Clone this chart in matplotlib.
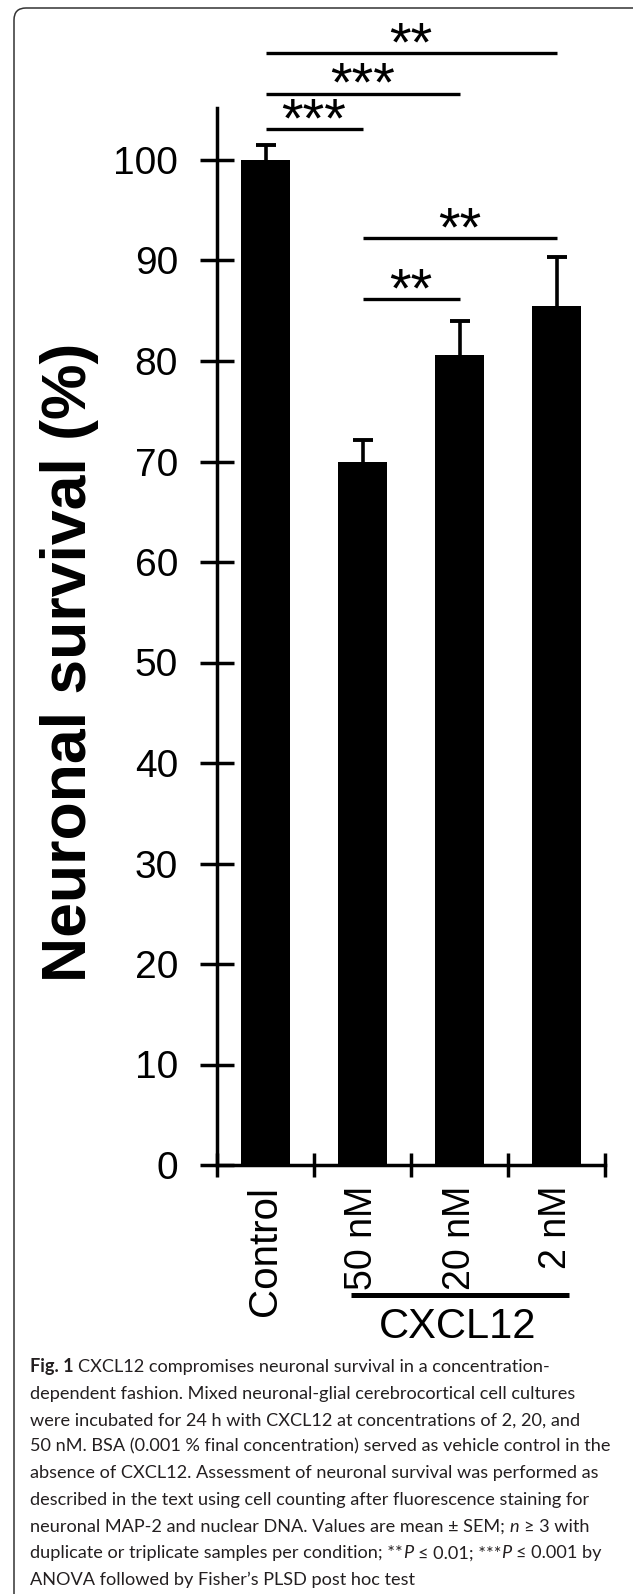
#!/usr/bin/env python3
# -*- coding: utf-8 -*-

import matplotlib
matplotlib.use("Agg")
import matplotlib.pyplot as plt
from matplotlib import font_manager
from matplotlib.patches import FancyBboxPatch
from matplotlib.transforms import IdentityTransform

# =====================================================
# Datos
# =====================================================
categorias = ["Control", "50 nM", "20 nM", "2 nM"]
supervivencia = [100.0, 70.0, 80.6, 85.5]
sem = [1.5, 2.1, 3.4, 4.8]
yticks = [0, 10, 20, 30, 40, 50, 60, 70, 80, 90, 100]
grupo = "CXCL12"
etiqueta_y = "Neuronal survival (%)"

# comparaciones: (barra_a, barra_b, marca)
comparaciones = [(0, 1, "***"), (0, 2, "***"), (0, 3, "**"),
                 (1, 2, "**"), (1, 3, "**")]
# altura de cada linea de comparacion (layout)
alturas_lineas = [103.05, 106.6, 110.6, 86.15, 92.2]

leyenda = [
    [("Fig. 1", "b"), (" CXCL12 compromises neuronal survival in a concentration-", "n")],
    [("dependent fashion. Mixed neuronal-glial cerebrocortical cell cultures", "n")],
    [("were incubated for 24 h with CXCL12 at concentrations of 2, 20, and", "n")],
    [("50 nM. BSA (0.001 % final concentration) served as vehicle control in the", "n")],
    [("absence of CXCL12. Assessment of neuronal survival was performed as", "n")],
    [("described in the text using cell counting after fluorescence staining for", "n")],
    [("neuronal MAP-2 and nuclear DNA. Values are mean \u00b1 SEM; ", "n"), ("n", "i"),
     (" \u2265 3 with", "n")],
    [("duplicate or triplicate samples per condition; **", "n"), ("P", "i"),
     (" \u2264 0.01; ***", "n"), ("P", "i"), (" \u2264 0.001 by", "n")],
    [("ANOVA followed by Fisher\u2019s PLSD post hoc test", "n")],
]

# =====================================================
# Figura
# =====================================================
W, H = 633, 1594
fig = plt.figure(figsize=(W / 100, H / 100), dpi=100)
fig.patch.set_facecolor("white")

# marco redondeado (se corta a la derecha y abajo)
marco = FancyBboxPatch((14, -40), 640, H - 8 + 40, boxstyle="round,pad=0,rounding_size=12",
                       transform=IdentityTransform(), fill=False,
                       edgecolor="#333333", linewidth=1.1)
fig.add_artist(marco)

FUENTE = ["Liberation Sans", "DejaVu Sans"]

ax_izq, ax_der, ax_abajo, ax_arriba = 217, 605, 1165, 108
ax = fig.add_axes([ax_izq / W, 1 - ax_abajo / H,
                   (ax_der - ax_izq) / W, (ax_abajo - ax_arriba) / H])

x = list(range(len(categorias)))
ax.bar(x, supervivencia, width=0.5, color="black", zorder=2)
eb = ax.errorbar(x, supervivencia, yerr=[[0] * len(sem), sem], fmt="none",
                 ecolor="black", elinewidth=2.6, capsize=7.5, capthick=2.8, zorder=1)
eb[1][0].set_visible(False)

ax.set_xlim(-0.5, 3.5)
ax.set_ylim(0, (ax_abajo - ax_arriba) / 10.05)

for s in ["top", "right"]:
    ax.spines[s].set_visible(False)
for s in ["left", "bottom"]:
    ax.spines[s].set_linewidth(2.5)

ax.set_yticks(yticks)
ax.set_yticklabels([str(v) for v in yticks], family=FUENTE, fontsize=28)
ax.tick_params(axis="y", direction="inout", length=24, width=2.5, pad=16)

ax.set_xticks(x)
ax.set_xticklabels(categorias, rotation=90, ha="center", va="top", family=FUENTE)
for i, lab in enumerate(ax.get_xticklabels()):
    lab.set_fontsize(29 if i == 0 else 27)
ax.set_xticks([-0.5, 0.5, 1.5, 2.5, 3.5], minor=True)
ax.tick_params(axis="x", which="major", length=0, pad=15)
ax.tick_params(axis="x", which="minor", direction="inout", length=17, width=2.5)

# comparaciones
for (a, b, marca), yl in zip(comparaciones, alturas_lineas):
    ax.plot([a, b], [yl, yl], color="black", lw=2.4, clip_on=False,
            solid_capstyle="butt")
    ax.annotate(marca, xy=((a + b) / 2, yl), xytext=(0, -5), textcoords="offset points",
                ha="center", va="baseline", fontsize=40, family=FUENTE,
                annotation_clip=False)

# grupo CXCL12
ax.plot([0.88, 3.13], [-12.94, -12.94], color="black", lw=3.6, clip_on=False,
        solid_capstyle="butt")
ax.text(1.985, -17.2, grupo, ha="center", va="baseline", fontsize=30,
        family=FUENTE, clip_on=False)

# etiqueta eje y
fig.text(70 / W, 1 - 662 / H, etiqueta_y, rotation=90, ha="center", va="center",
         fontsize=45, fontweight="bold", family=FUENTE)

# =====================================================
# Leyenda de la figura
# =====================================================
renderer = fig.canvas.get_renderer()
COLOR_LEY = "#231f20"
ESTILOS = {"n": {}, "b": {"fontweight": "bold"}, "i": {"fontstyle": "italic"}}


def fuente_disponible(familia, stretch="normal"):
    try:
        ruta = font_manager.findfont(
            font_manager.FontProperties(family=familia, stretch=stretch),
            fallback_to_default=False)
    except ValueError:
        return False
    if stretch != "normal":
        return "ondens" in ruta or "arrow" in ruta
    return True


candidatas = [("Liberation Sans Narrow", "normal"), ("DejaVu Sans", "condensed"),
              ("Open Sans", "condensed"), ("Roboto", "condensed"),
              ("Lato", "normal"), ("Liberation Sans", "normal")]


def ancho(texto, size, estilo="n", fam=None, stretch="normal"):
    t = fig.text(0, 0, texto, fontsize=size, family=fam, fontstretch=stretch,
                 transform=IdentityTransform(), **ESTILOS[estilo])
    w = t.get_window_extent(renderer).width
    t.remove()
    return w


# elegir la fuente mas estrecha disponible
base = 14
mejor = None
for fam, st in candidatas:
    if not fuente_disponible(fam, st):
        continue
    w = ancho(leyenda[3][0][0], base, fam=[fam, "DejaVu Sans"], stretch=st)
    if mejor is None or w < mejor[0]:
        mejor = (w, [fam, "DejaVu Sans"], st)

_, FUENTE_LEY, STRETCH = mejor
# ajustar tamano para que la linea 4 mida ~585 px
tam = base * 585 / mejor[0]
esp = ancho("a a", tam, fam=FUENTE_LEY, stretch=STRETCH) - \
    ancho("aa", tam, fam=FUENTE_LEY, stretch=STRETCH)

x0, y0, salto = 30, 1372, 26.6
for i, linea in enumerate(leyenda):
    xc = x0
    yb = H - (y0 + i * salto)
    for texto, estilo in linea:
        if texto.startswith(" "):
            xc += esp
        limpio = texto.strip()
        fig.text(xc, yb, limpio, fontsize=tam, family=FUENTE_LEY, fontstretch=STRETCH,
                 color=COLOR_LEY, ha="left", va="baseline",
                 transform=IdentityTransform(), **ESTILOS[estilo])
        xc += ancho(limpio, tam, estilo, fam=FUENTE_LEY, stretch=STRETCH)
        if texto.endswith(" "):
            xc += esp

fig.savefig("out.png", dpi=100, facecolor="white")
plt.close(fig)
